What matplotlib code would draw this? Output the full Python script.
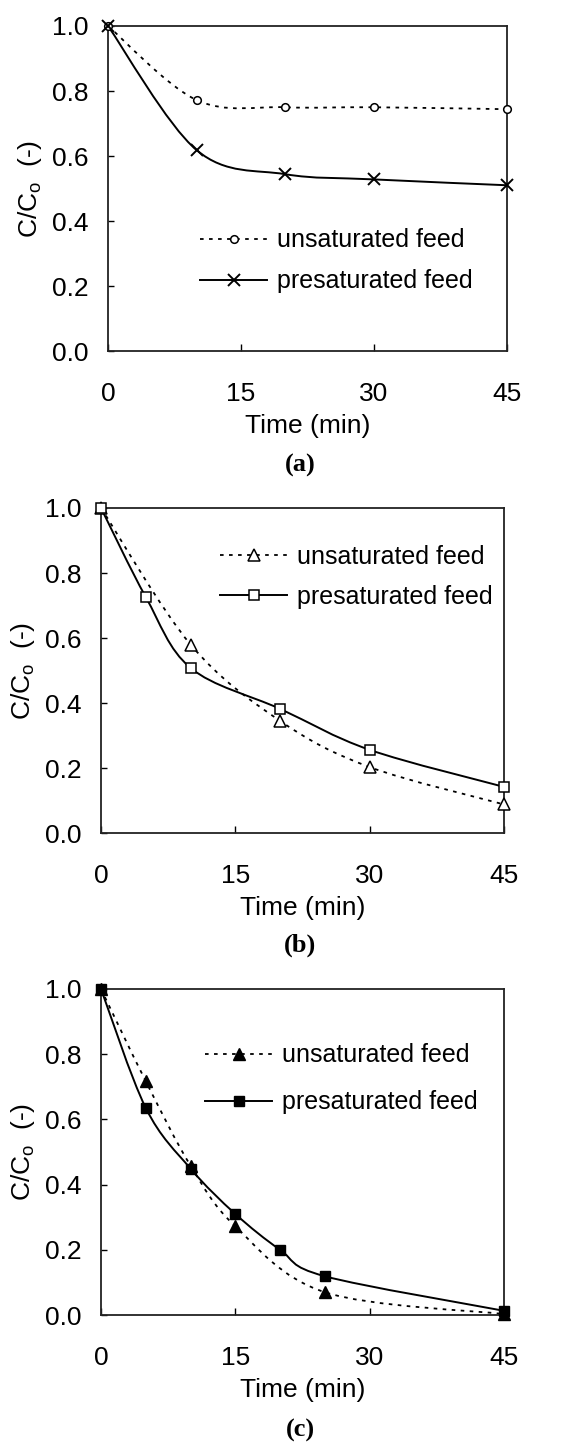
import matplotlib
matplotlib.use("Agg")
import matplotlib.pyplot as plt
from matplotlib.path import Path
from matplotlib.patches import PathPatch
from matplotlib.lines import Line2D

plt.rcParams["font.family"] = ["Liberation Sans", "DejaVu Sans"]
plt.rcParams["font.size"] = 19

# panel (a)
a_unsat_t = [0, 10, 20, 30, 45]
a_unsat_c = [1.0, 0.772, 0.750, 0.750, 0.744]
a_pres_t = [0, 10, 20, 30, 45]
a_pres_c = [1.0, 0.618, 0.544, 0.528, 0.510]

# panel (b)
b_unsat_t = [0, 10, 20, 30, 45]
b_unsat_c = [1.0, 0.580, 0.345, 0.203, 0.088]
b_pres_t = [0, 5, 10, 20, 30, 45]
b_pres_c = [1.0, 0.726, 0.508, 0.382, 0.256, 0.142]

# panel (c)
c_unsat_t = [0, 5, 10, 15, 25, 45]
c_unsat_c = [1.0, 0.717, 0.458, 0.272, 0.070, 0.003]
c_pres_t = [0, 5, 10, 15, 20, 25, 45]
c_pres_c = [1.0, 0.635, 0.449, 0.310, 0.200, 0.119, 0.013]

x_ticks = [0, 15, 30, 45]
y_ticks = [0.0, 0.2, 0.4, 0.6, 0.8, 1.0]
labels = ["unsaturated feed", "presaturated feed"]


def smooth_path(xs, ys):
    # excel-like smoothed line (catmull-rom as cubic bezier)
    pts = list(zip(xs, ys))
    n = len(pts)
    verts = [pts[0]]
    codes = [Path.MOVETO]
    for i in range(n - 1):
        p0 = pts[i - 1] if i > 0 else pts[i]
        p1 = pts[i]
        p2 = pts[i + 1]
        p3 = pts[i + 2] if i + 2 < n else pts[i + 1]
        c1 = (p1[0] + (p2[0] - p0[0]) / 6, p1[1] + (p2[1] - p0[1]) / 6)
        c2 = (p2[0] - (p3[0] - p1[0]) / 6, p2[1] - (p3[1] - p1[1]) / 6)
        verts += [c1, c2, p2]
        codes += [Path.CURVE4] * 3
    return Path(verts, codes)


dotted = (0, (2, 3))


def panel(rect, ut, uc, pt, pc, umark, pmark, leg_xy, spacing, tag, tag_y):
    ax = fig.add_axes(rect)
    ax.add_patch(PathPatch(smooth_path(ut, uc), fill=False, color="black",
                           lw=1.3, linestyle=dotted, clip_on=False))
    ax.add_patch(PathPatch(smooth_path(pt, pc), fill=False, color="black",
                           lw=1.4, clip_on=False))
    ax.plot(ut, uc, linestyle="none", clip_on=False, zorder=3, **umark)
    ax.plot(pt, pc, linestyle="none", clip_on=False, zorder=3, **pmark)
    ax.set_xlim(0, 45)
    ax.set_ylim(0, 1.0)
    ax.set_xticks(x_ticks)
    ax.set_yticks(y_ticks)
    ax.set_yticklabels(["%.1f" % v for v in y_ticks])
    ax.tick_params(axis="x", direction="in", length=5, pad=22, width=1)
    ax.tick_params(axis="y", direction="in", length=4, pad=14, width=1)
    for s in ax.spines.values():
        s.set_linewidth(1.3)
        s.set_color("#222222")
    ax.set_xlabel("Time (min)", labelpad=6)
    ax.set_ylabel(r"C/C$_\mathregular{o}$  (-)", labelpad=6)
    handles = [
        Line2D([], [], color="black", lw=1.3, linestyle=dotted, **umark),
        Line2D([], [], color="black", lw=1.4, **pmark),
    ]
    ax.legend(handles, labels, loc="center left", bbox_to_anchor=leg_xy,
              frameon=False, fontsize=18, handlelength=2.7,
              handletextpad=0.4, labelspacing=spacing, borderpad=0,
              borderaxespad=0, numpoints=1)
    fig.text(0.525, tag_y, tag, ha="center", va="center",
             family="Liberation Serif", fontweight="bold", fontsize=19)
    return ax


fig = plt.figure(figsize=(5.72, 14.44), dpi=100)

panel([0.1888, 0.7569, 0.6976, 0.2251], a_unsat_t, a_unsat_c, a_pres_t, a_pres_c,
      dict(marker="o", ms=5.5, mfc="white", mec="black", mew=1.1),
      dict(marker="x", ms=9, mec="black", mew=1.4),
      (0.23, 0.277), 0.68, "(a)", 1 - 465 / 1444)

panel([0.1766, 0.4231, 0.7045, 0.2251], b_unsat_t, b_unsat_c, b_pres_t, b_pres_c,
      dict(marker="^", ms=8.5, mfc="white", mec="black", mew=1.1),
      dict(marker="s", ms=7.5, mfc="white", mec="black", mew=1.1),
      (0.295, 0.789), 0.64, "(b)", 1 - 945 / 1444)

panel([0.1766, 0.0893, 0.7045, 0.2258], c_unsat_t, c_unsat_c, c_pres_t, c_pres_c,
      dict(marker="^", ms=8.5, mfc="black", mec="black"),
      dict(marker="s", ms=7.5, mfc="black", mec="black"),
      (0.258, 0.724), 0.92, "(c)", 1 - 1430 / 1444)

fig.savefig("out.png", dpi=100)
